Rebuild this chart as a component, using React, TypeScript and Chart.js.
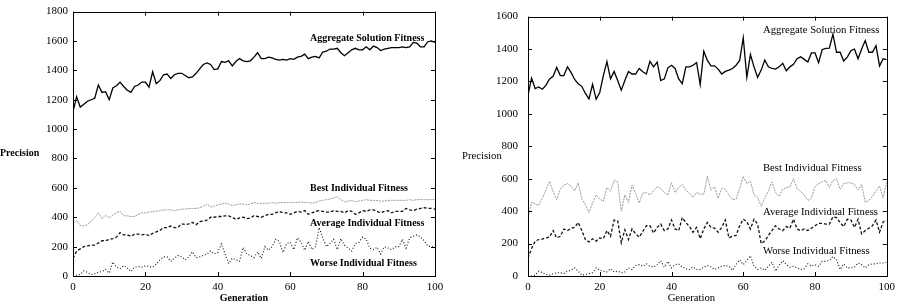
import React, { useEffect, useRef } from "react";
import { Chart, registerables } from "chart.js";
Chart.register(...registerables);

const generations = Array.from({ length: 101 }, (_, i) => i);
const xTickValues = [0, 20, 40, 60, 80, 100];
const leftYTickValues = [0, 200, 400, 600, 800, 1000, 1200, 1400, 1600, 1800];
const rightYTickValues = [0, 200, 400, 600, 800, 1000, 1200, 1400, 1600];

const seriesNames = [
  "Aggregate Solution Fitness",
  "Best Individual Fitness",
  "Average Individual Fitness",
  "Worse Individual Fitness",
];

const leftAggregate = [1120,1220,1150,1170,1190,1200,1210,1300,1250,1255,1200,1280,1295,1320,1290,1265,1250,1290,1300,1320,1320,1285,1390,1310,1330,1370,1375,1345,1370,1380,1380,1365,1350,1355,1380,1410,1440,1450,1440,1405,1410,1460,1455,1465,1430,1460,1480,1465,1460,1465,1490,1520,1480,1480,1490,1485,1475,1470,1475,1470,1480,1475,1490,1495,1510,1480,1490,1495,1485,1525,1530,1545,1545,1550,1520,1500,1520,1540,1550,1540,1540,1560,1540,1565,1555,1535,1545,1550,1555,1555,1555,1560,1555,1560,1590,1585,1560,1560,1595,1600,1590];
const leftBest = [360,375,345,340,350,370,400,430,390,415,395,415,430,440,410,410,405,405,420,430,430,435,440,440,445,450,450,450,445,450,455,455,460,460,460,465,475,490,470,475,485,490,495,490,480,485,490,490,485,490,500,495,495,495,495,500,495,500,500,500,500,500,500,505,500,500,495,500,510,515,520,525,530,540,520,505,510,515,505,510,515,520,515,515,515,510,510,515,515,515,515,515,515,520,515,520,520,520,520,520,520];
const leftAverage = [120,170,185,200,205,210,210,225,240,240,250,255,265,295,280,280,270,285,285,280,285,275,290,300,310,330,330,340,330,330,355,350,355,365,350,370,375,380,400,400,405,405,410,410,400,385,395,400,390,395,410,405,400,410,420,420,430,440,430,430,420,430,440,435,445,420,430,440,445,440,435,435,445,440,440,430,445,440,420,430,445,440,450,450,440,430,440,445,430,440,440,440,460,450,445,455,460,465,460,460,455];
const leftWorse = [0,5,10,35,25,10,15,25,30,45,20,95,60,50,70,55,30,60,65,60,70,65,60,80,110,130,130,100,120,140,130,110,130,165,125,130,140,150,170,150,160,220,150,85,120,110,100,195,150,140,125,165,120,200,175,200,250,235,160,220,230,180,260,230,175,235,180,200,330,260,200,220,250,180,255,210,190,170,220,230,265,250,190,180,195,150,200,190,180,200,200,250,190,260,270,280,265,240,205,200,195];

const rightAggregate = [1116,1220,1156,1166,1152,1176,1216,1232,1286,1236,1236,1290,1256,1212,1186,1170,1126,1092,1182,1090,1132,1236,1322,1216,1262,1206,1146,1206,1262,1246,1246,1280,1260,1246,1324,1290,1320,1206,1216,1284,1300,1280,1216,1186,1290,1290,1300,1316,1180,1386,1330,1296,1296,1276,1246,1262,1270,1280,1300,1330,1470,1226,1366,1290,1226,1270,1332,1290,1280,1276,1290,1312,1266,1290,1306,1340,1352,1336,1320,1376,1376,1316,1396,1404,1406,1492,1380,1380,1326,1350,1390,1400,1340,1400,1452,1380,1380,1420,1296,1340,1335];
const rightBest = [360,455,445,435,480,530,585,520,470,535,560,570,555,525,575,475,440,390,450,500,475,460,545,525,590,580,400,500,455,560,510,450,510,515,500,525,550,540,515,500,575,515,545,565,530,510,485,515,505,505,615,530,550,480,540,535,500,470,475,540,615,570,585,500,485,430,480,525,580,515,490,535,545,550,600,540,520,500,465,480,550,570,580,590,545,590,600,535,570,575,575,565,530,565,455,465,490,525,555,480,585];
const rightAverage = [110,170,215,225,228,235,240,280,235,245,290,280,295,300,330,280,225,210,230,215,235,230,280,245,345,340,205,285,225,290,260,240,275,310,310,265,300,320,280,290,345,290,280,360,330,305,270,300,230,290,330,300,295,270,300,345,235,245,250,310,350,335,290,350,320,200,215,250,280,310,290,280,305,295,350,290,280,290,280,295,310,325,325,320,320,365,360,330,305,350,345,300,350,260,280,295,310,345,270,335,340];
const rightWorse = [0,0,5,30,20,10,5,15,20,20,15,30,35,50,30,5,10,15,20,50,35,30,25,45,25,30,20,25,50,40,65,70,60,75,60,55,70,95,55,90,50,70,75,55,45,40,55,40,40,55,65,55,40,50,60,65,60,35,70,100,70,95,125,60,40,50,35,60,85,30,65,95,70,55,60,50,40,45,75,60,70,60,90,90,95,120,100,40,75,50,50,55,80,70,50,70,75,75,80,80,85];

const SERIF = '"Liberation Serif", "Times New Roman", serif';

type LabelPos = { gx: number; gy: number };

interface PanelCfg {
  series: number[][];
  yMax: number;
  yTicks: number[];
  bold: boolean;
  textSize: number;
  plotLeft: number;
  padRight: number;
  tickPad: number;
  labelPos: LabelPos[];
  yTitleX: number;
  genOffset: number;
}

const styles = [
  { color: "#000", width: 1.3, dash: [] as number[] },
  { color: "#999", width: 1, dash: [2, 1] },
  { color: "#111", width: 1.3, dash: [3, 2] },
  { color: "#111", width: 1.1, dash: [1, 2] },
];

const framePlugin = {
  id: "gnuframe",
  afterDraw(chart: any, _args: any, opts: any) {
    const { ctx, chartArea: a, scales } = chart;
    const x = scales.x;
    const y = scales.y;
    ctx.save();
    ctx.strokeStyle = "#000";
    ctx.lineWidth = 1;
    ctx.setLineDash([]);
    ctx.strokeRect(Math.round(a.left) + 0.5, Math.round(a.top) + 0.5, Math.round(a.right - a.left), Math.round(a.bottom - a.top));
    const tl = 4;
    ctx.beginPath();
    for (const v of opts.xTicks) {
      const px = Math.round(x.getPixelForValue(v)) + 0.5;
      ctx.moveTo(px, a.bottom);
      ctx.lineTo(px, a.bottom - tl);
      ctx.moveTo(px, a.top);
      ctx.lineTo(px, a.top + tl);
    }
    for (const v of opts.yTicks) {
      const py = Math.round(y.getPixelForValue(v)) + 0.5;
      ctx.moveTo(a.left, py);
      ctx.lineTo(a.left + tl, py);
      ctx.moveTo(a.right, py);
      ctx.lineTo(a.right - tl, py);
    }
    ctx.stroke();

    const weight = opts.bold ? "bold " : "";
    ctx.fillStyle = "#000";
    ctx.font = `${weight}${opts.textSize}px ${SERIF}`;
    ctx.textBaseline = "middle";
    ctx.textAlign = "left";
    opts.names.forEach((name: string, i: number) => {
      const p = opts.labelPos[i];
      ctx.fillText(name, x.getPixelForValue(p.gx), y.getPixelForValue(p.gy));
    });
    ctx.fillText("Precision", opts.yTitleX, (a.top + a.bottom) / 2 + 10);
    ctx.textAlign = "center";
    ctx.fillText("Generation", (a.left + a.right) / 2 + opts.genOffset, a.bottom + 22);
    ctx.restore();
  },
};

function Panel({ cfg }: { cfg: PanelCfg }) {
  const ref = useRef<HTMLCanvasElement>(null);
  useEffect(() => {
    if (!ref.current) return;
    const chart = new Chart(ref.current, {
      type: "line",
      data: {
        datasets: cfg.series.map((arr, i) => ({
          label: seriesNames[i],
          data: generations.map((g, j) => ({ x: g, y: arr[j] })),
          borderColor: styles[i].color,
          borderWidth: styles[i].width,
          borderDash: styles[i].dash,
          pointRadius: 0,
          tension: 0,
          fill: false,
        })),
      },
      options: {
        animation: false,
        responsive: false,
        devicePixelRatio: 1,
        layout: { padding: { left: 0, top: 9, right: cfg.padRight, bottom: 0 } },
        plugins: {
          legend: { display: false },
          tooltip: { enabled: false },
          gnuframe: {
            xTicks: xTickValues,
            yTicks: cfg.yTicks,
            bold: cfg.bold,
            textSize: cfg.textSize,
            names: seriesNames,
            labelPos: cfg.labelPos,
            yTitleX: cfg.yTitleX,
            genOffset: cfg.genOffset,
          },
        } as any,
        scales: {
          x: {
            type: "linear",
            min: 0,
            max: 100,
            afterBuildTicks: (s: any) => {
              s.ticks = xTickValues.map((v) => ({ value: v }));
            },
            afterFit: (s: any) => {
              s.height = 31;
            },
            grid: { display: false, drawTicks: false },
            border: { display: false },
            ticks: {
              color: "#000",
              font: { family: SERIF, size: 11 },
              padding: 5,
              maxRotation: 0,
              callback: (v: any) => String(v),
            },
          },
          y: {
            type: "linear",
            min: 0,
            max: cfg.yMax,
            afterBuildTicks: (s: any) => {
              s.ticks = cfg.yTicks.map((v) => ({ value: v }));
            },
            afterFit: (s: any) => {
              s.width = cfg.plotLeft;
            },
            grid: { display: false, drawTicks: false },
            border: { display: false },
            ticks: {
              color: "#000",
              font: { family: SERIF, size: 11 },
              padding: cfg.tickPad,
              callback: (v: any) => String(v),
            },
          },
        },
      },
      plugins: [framePlugin],
    });
    return () => chart.destroy();
  }, []);
  return <canvas ref={ref} width={450} height={307} style={{ display: "block", width: 450, height: 307 }} />;
}

const leftCfg: PanelCfg = {
  series: [leftAggregate, leftBest, leftAverage, leftWorse],
  yMax: 1800,
  yTicks: leftYTickValues,
  bold: true,
  textSize: 10,
  plotLeft: 73,
  padRight: 15,
  tickPad: 5,
  labelPos: [
    { gx: 65.5, gy: 1618 },
    { gx: 65.5, gy: 593 },
    { gx: 65.5, gy: 357 },
    { gx: 65.5, gy: 86 },
  ],
  yTitleX: 0,
  genOffset: -10,
};

const rightCfg: PanelCfg = {
  series: [rightAggregate, rightBest, rightAverage, rightWorse],
  yMax: 1600,
  yTicks: rightYTickValues,
  bold: false,
  textSize: 10.7,
  plotLeft: 78,
  padRight: 12,
  tickPad: 10,
  labelPos: [
    { gx: 65.5, gy: 1518 },
    { gx: 65.5, gy: 666 },
    { gx: 65.5, gy: 396 },
    { gx: 65.5, gy: 156 },
  ],
  yTitleX: 12,
  genOffset: -16,
};

export default function App() {
  return (
    <div style={{ position: "fixed", left: 0, top: 0, width: 900, height: 307, display: "flex", background: "#fff" }}>
      <Panel cfg={leftCfg} />
      <Panel cfg={rightCfg} />
    </div>
  );
}
